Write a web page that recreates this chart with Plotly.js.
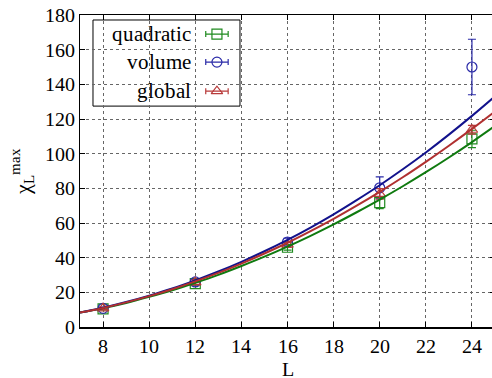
<!DOCTYPE html>
<html>
<head>
<meta charset="utf-8">
<script src="https://cdn.plot.ly/plotly-3.0.1.min.js"></script>
<style>
@font-face { font-family: 'ChartSerif'; src: local('Liberation Serif'), local('LiberationSerif'), local('LiberationSerif-Regular'); }
html,body{margin:0;padding:0;background:#fff;overflow:hidden;}
#chart{width:492px;height:378px;overflow:hidden;}
</style>
</head>
<body>
<div id="chart"></div>
<script>
// ---- data ----
const L = [8, 12, 16, 20, 24];
const quadratic = [10.5, 25.0, 46.0, 71.8, 108.5];
const quadraticErr = [0.6, 1.2, 1.6, 3.5, 5.0];
const volume = [10.8, 26.0, 49.0, 80.3, 150.0];
const volumeErr = [0.7, 1.5, 2.2, 6.3, 16.0];
const globalVals = [10.8, 25.8, 47.5, 76.8, 113.8];
const globalErr = [0.6, 1.2, 1.5, 3.0, 2.5];

// fitted curves
const fitL = [7, 8, 9, 10, 11, 12, 13, 14, 15, 16, 17, 18, 19, 20, 21, 22, 23, 24, 25];
const fitVolume = [8.3, 11.1, 14.4, 18.1, 22.2, 26.9, 32.0, 37.6, 43.7, 50.3, 57.4, 65.0, 73.2, 81.8, 91.0, 100.7, 111.0, 121.8, 133.1];
const fitGlobal = [8.3, 11.0, 14.2, 17.8, 21.8, 26.3, 31.2, 36.6, 42.4, 48.6, 55.3, 62.4, 70.0, 78.0, 86.4, 95.3, 104.6, 114.3, 124.4];
const fitQuadratic = [8.3, 10.9, 13.9, 17.4, 21.2, 25.5, 30.1, 35.2, 40.6, 46.4, 52.6, 59.2, 66.2, 73.5, 81.2, 89.3, 97.8, 106.7, 116.0];

const seriesNames = ['quadratic', 'volume', 'global'];
const xTicks = [8, 10, 12, 14, 16, 18, 20, 22, 24];
const yTicks = [0, 20, 40, 60, 80, 100, 120, 140, 160, 180];

// ---- styles ----
const cGreen = '#0f7a0f', cBlue = '#12128c', cRed = '#b03030';
const mGreen = '#1f8a1f', mBlue = '#2a2aa8', mRed = '#b83a3a';
const FONT = 'ChartSerif, Liberation Serif, serif';

function pts(y, err, col, sym) {
  return {
    x: L, y: y, type: 'scatter', mode: 'markers', showlegend: false,
    marker: {symbol: sym, size: 10, color: col, line: {color: col, width: 1.2}},
    error_y: {type: 'data', array: err, visible: true, color: col, thickness: 1.2, width: 4}
  };
}
function fit(y, col) {
  return {x: fitL, y: y, type: 'scatter', mode: 'lines', showlegend: false,
          line: {color: col, width: 2, shape: 'spline'}};
}

// legend samples (drawn on an overlay axis 0..1)
const legY = [0.939, 0.849, 0.756];
const legCols = [mGreen, mBlue, mRed];
const legSyms = ['square-open', 'circle-open', 'triangle-up-open'];
const legendTraces = seriesNames.map((n, i) => ({
  x: [0.330], y: [legY[i]], xaxis: 'x2', yaxis: 'y2', type: 'scatter', mode: 'markers',
  showlegend: false, hoverinfo: 'skip',
  marker: {symbol: legSyms[i], size: 10, color: legCols[i], line: {color: legCols[i], width: 1.2}},
  error_x: {type: 'constant', value: 0.027, visible: true, color: legCols[i], thickness: 1.2, width: 3}
}));

const data = [
  pts(quadratic, quadraticErr, mGreen, 'square-open'),
  pts(volume, volumeErr, mBlue, 'circle-open'),
  pts(globalVals, globalErr, mRed, 'triangle-up-open'),
  fit(fitQuadratic, cGreen),
  fit(fitVolume, cBlue),
  fit(fitGlobal, cRed),
  ...legendTraces
];

const annotations = seriesNames.map((n, i) => ({
  xref: 'paper', yref: 'paper', x: 0.272, y: legY[i], xanchor: 'right', yanchor: 'middle',
  text: n, showarrow: false, font: {family: FONT, size: 21, color: '#000'}
}));
annotations.push({
  xref: 'paper', yref: 'paper', x: 0.5, y: -0.136, xanchor: 'center', yanchor: 'middle',
  text: 'L', showarrow: false, font: {family: FONT, size: 20, color: '#000'}
});

const layout = {
  width: 495, height: 378,
  margin: {l: 80, r: 0, t: 15, b: 51},
  font: {family: FONT, size: 20, color: '#000'},
  showlegend: false,
  xaxis: {
    range: [7, 25], tickvals: xTicks, ticktext: xTicks.map(String),
    ticks: 'inside', ticklen: 5, tickcolor: '#000',
    showline: true, linecolor: '#000', linewidth: 1.5, mirror: 'ticks',
    showgrid: true, gridcolor: '#666', griddash: 'dot',
    zeroline: false
  },
  yaxis: {
    range: [0, 180], tickvals: yTicks, ticktext: yTicks.map(String),
    ticks: 'inside', ticklen: 5, tickcolor: '#000',
    showline: true, linecolor: '#000', linewidth: 1.5, mirror: 'ticks',
    showgrid: true, gridcolor: '#666', griddash: 'dot',
    zeroline: false,
    title: {text: 'χ<sub>L</sub><sup>max</sup>', font: {family: FONT, size: 22}, standoff: 8}
  },
  xaxis2: {overlaying: 'x', range: [0, 1], visible: false},
  yaxis2: {overlaying: 'y', range: [0, 1], visible: false},
  shapes: [{
    type: 'rect', xref: 'paper', yref: 'paper', layer: 'between',
    x0: 0.0313, x1: 0.3855, y0: 0.708, y1: 0.984,
    fillcolor: '#fff', line: {color: '#000', width: 1}
  }],
  annotations: annotations
};

let drawn = false;
function draw() {
  if (drawn) return;
  drawn = true;
  Plotly.newPlot('chart', data, layout, {staticPlot: true}).then(function () {
    document.body.appendChild(document.createElement('div'));
  });
}
if (document.fonts && document.fonts.load) {
  document.fonts.load('20px ChartSerif', 'quadratic 0123456789 Lχ max').then(draw, draw);
  setTimeout(draw, 1500);
} else {
  draw();
}
</script>
</body>
</html>
